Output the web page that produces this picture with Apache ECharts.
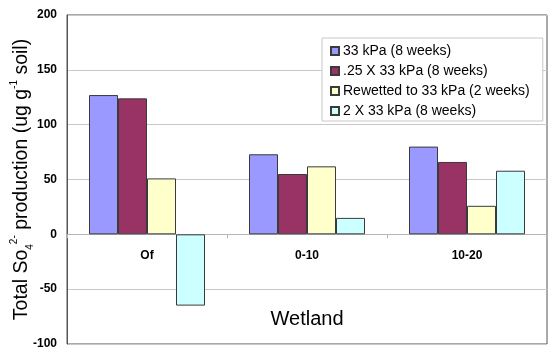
<!DOCTYPE html>
<html>
<head>
<meta charset="utf-8">
<script src="https://cdn.jsdelivr.net/npm/echarts@6/dist/echarts.min.js"></script>
<style>
  html, body { margin: 0; padding: 0; background: #fff; }
  #chart { width: 550px; height: 359px; }
</style>
</head>
<body>
<div id="chart"></div>
<script>
// Wetland SO4 production by depth
var categories = ['Of', '0-10', '10-20'];
var seriesNames = ['33 kPa (8 weeks)', '.25 X 33 kPa (8 weeks)', 'Rewetted to 33 kPa (2 weeks)', '2 X 33 kPa (8 weeks)'];
var kpa33 = [127, 73, 80];
var kpa33quarter = [124, 55, 66];
var rewetted = [51, 62, 26];
var kpa33double = [-65, 15, 58];
var yTicks = { min: -100, max: 200, interval: 50 };

var colors = ['#9999ff', '#993366', '#ffffcc', '#ccffff'];
var values = [kpa33, kpa33quarter, rewetted, kpa33double];

var gridTop = 15, gridBottom = 15, chartH = 359;
var plotH = chartH - gridTop - gridBottom;
// move the category axis up to the zero line
var zeroOffset = -plotH * (0 - yTicks.min) / (yTicks.max - yTicks.min);

var myChart = echarts.init(document.getElementById('chart'));
var option = {
    animation: false,
    grid: {
        left: 67, right: 3, top: gridTop, bottom: gridBottom,
        containLabel: false,
        outerBoundsMode: 'none',
        show: true, borderColor: '#555', borderWidth: 1
    },
    legend: {
        orient: 'vertical',
        left: 322, top: 38,
        padding: [6, 13, 3, 8],
        itemGap: 6,
        itemWidth: 8, itemHeight: 8,
        icon: 'rect',
        backgroundColor: '#fff',
        borderColor: '#c8c8c8',
        borderWidth: 1,
        borderRadius: 0,
        align: 'left',
        textStyle: { fontFamily: 'Liberation Sans', fontSize: 14, lineHeight: 14, color: '#000', padding: [0, 0, 0, -1] },
        data: seriesNames
    },
    xAxis: {
        type: 'category',
        data: categories,
        offset: zeroOffset,
        axisLine: { onZero: false, lineStyle: { color: '#b5b5b5' } },
        axisTick: { show: true, length: 4, lineStyle: { color: '#b5b5b5' } },
        axisLabel: { margin: 15, fontFamily: 'Liberation Sans', fontWeight: 'bold', fontSize: 12, color: '#000' },
        name: 'Wetland',
        nameLocation: 'middle',
        nameGap: 75,
        nameTextStyle: { fontFamily: 'Liberation Sans', fontSize: 20, color: '#000' }
    },
    yAxis: {
        type: 'value',
        min: yTicks.min, max: yTicks.max, interval: yTicks.interval,
        axisLine: { show: true, lineStyle: { color: '#555' } },
        axisTick: { show: false },
        splitLine: { lineStyle: { color: '#c8c8c8' } },
        axisLabel: { margin: 10, fontFamily: 'Liberation Sans', fontWeight: 'bold', fontSize: 12, color: '#000' },
        name: '{t|Total So}{sub|4}{sup|2-}{t| production (ug g}{sup|-1}{t| soil)}',
        nameLocation: 'middle',
        nameMoveOverlap: false,
        nameGap: 32,
        nameTextStyle: {
            fontFamily: 'Liberation Sans', fontSize: 19.5, color: '#000',
            rich: {
                t: { fontFamily: 'Liberation Sans', fontSize: 19.5, color: '#000', lineHeight: 26, verticalAlign: 'middle' },
                sup: { fontFamily: 'Liberation Sans', fontSize: 10, color: '#000', lineHeight: 26, verticalAlign: 'top' },
                sub: { fontFamily: 'Liberation Sans', fontSize: 10, color: '#000', lineHeight: 26, verticalAlign: 'bottom' }
            }
        }
    },
    series: seriesNames.map(function (name, i) {
        return {
            name: name,
            type: 'bar',
            data: values[i],
            barGap: '0%',
            barCategoryGap: '27.5%',
            itemStyle: { color: colors[i], borderColor: '#3a3a3a', borderWidth: 1 }
        };
    })
};

myChart.setOption(option);
window.addEventListener("resize", function () {
    myChart.resize();
});
</script>
</body>
</html>
